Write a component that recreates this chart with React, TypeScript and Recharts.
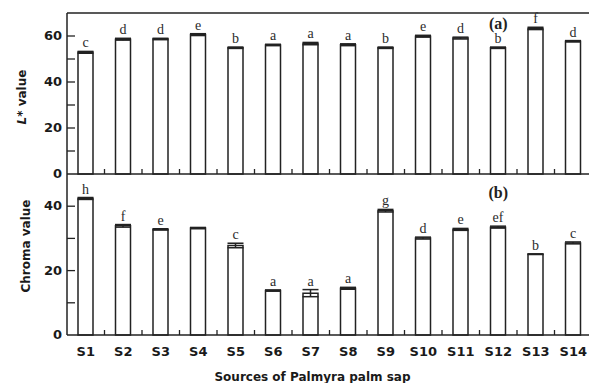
import React from "react";
import { Bar, BarChart, XAxis, YAxis, ErrorBar, LabelList, ReferenceLine, ReferenceDot, Label } from "recharts";

const sources = ["S1", "S2", "S3", "S4", "S5", "S6", "S7", "S8", "S9", "S10", "S11", "S12", "S13", "S14"];

// panel (a) L* value
const lValues = [52.9, 58.6, 58.7, 60.6, 54.9, 56.1, 56.7, 56.2, 54.9, 59.9, 59.1, 54.9, 63.3, 57.7];
const lErr = [0.4, 0.4, 0.3, 0.4, 0.3, 0.3, 0.5, 0.4, 0.3, 0.4, 0.4, 0.3, 0.5, 0.3];
const lLetters = ["c", "d", "d", "e", "b", "a", "a", "a", "b", "e", "d", "b", "f", "d"];
const lTicks = [0, 10, 20, 30, 40, 50, 60, 70];

// panel (b) chroma value
const chromaValues = [42.4, 33.9, 32.8, 33.2, 27.8, 13.8, 13.0, 14.5, 38.6, 30.1, 32.8, 33.5, 25.1, 28.6];
const chromaErr = [0.3, 0.4, 0.2, 0.2, 0.7, 0.2, 1.1, 0.3, 0.4, 0.3, 0.3, 0.3, 0.1, 0.3];
const chromaLetters = ["h", "f", "e", "", "c", "a", "a", "a", "g", "d", "e", "ef", "b", "c"];
const chromaTicks = [0, 10, 20, 30, 40, 50];

const lData = sources.map((s, i) => ({ name: s, value: lValues[i], err: lErr[i] }));
const chromaData = sources.map((s, i) => ({ name: s, value: chromaValues[i], err: chromaErr[i] }));

const INK = "#222";
const SANS = "'DejaVu Sans', Verdana, sans-serif";
const SERIF = "'Liberation Serif', 'Times New Roman', serif";
const W = 592;

const makeXTick = (showLabel: boolean) => (props: any) => {
  const { x, y, payload } = props;
  const off = payload && payload.offset ? payload.offset : 18.75;
  return (
    <g>
      <line x1={x + off} x2={x + off} y1={y} y2={y - 5} stroke={INK} strokeWidth={1.3} />
      {showLabel && (
        <text x={x} y={y + 21} textAnchor="middle" fontFamily={SANS} fontWeight="bold" fontSize={13} fill="#1a1a1a">
          {payload.value}
        </text>
      )}
    </g>
  );
};

const makeYTick = (labelled: number[], top: number) => (props: any) => {
  const { x, y, payload } = props;
  const v = payload.value;
  return (
    <g>
      {v !== 0 && v !== top && <line x1={x} x2={x + 8} y1={y} y2={y} stroke={INK} strokeWidth={1.3} />}
      {labelled.includes(v) && (
        <text x={x - 5} y={y + 4} textAnchor="end" fontFamily={SANS} fontWeight="bold" fontSize={13} fill="#1a1a1a">
          {v}
        </text>
      )}
    </g>
  );
};

const makeLetter = (letters: string[], errs: number[], values: number[]) => (props: any) => {
  const { x, y, width, height, index } = props;
  const pxPerUnit = Number(height) / values[index];
  const top = Number(y) - errs[index] * pxPerUnit;
  return (
    <text x={Number(x) + Number(width) / 2} y={top - 4} textAnchor="middle" fontFamily={SERIF} fontSize={14} fill="#2b2b2b">
      {letters[index]}
    </text>
  );
};

const panelLabel = (text: string) => (props: any) => {
  const { viewBox } = props;
  return (
    <text x={viewBox.x} y={viewBox.y + 5} textAnchor="middle" fontFamily={SERIF} fontWeight="bold" fontSize={16} fill="#222">
      {text}
    </text>
  );
};

const lTitle = () => {
  const cx = 22;
  const cy = 97;
  return (
    <text x={cx} y={cy} transform={`rotate(-90 ${cx} ${cy})`} textAnchor="middle" dominantBaseline="central" fontFamily={SANS} fontWeight="bold" fontSize={12} fill="#1a1a1a">
      <tspan fontStyle="italic">L</tspan>* value
    </text>
  );
};

const chromaTitle = () => {
  const cx = 26;
  const cy = 72;
  return (
    <text x={cx} y={cy} transform={`rotate(-90 ${cx} ${cy})`} textAnchor="middle" dominantBaseline="central" fontFamily={SANS} fontWeight="bold" fontSize={12} fill="#1a1a1a">
      Chroma value
    </text>
  );
};

export default function App() {
  const barStyle = { fill: "#fff", stroke: INK, strokeWidth: 1.5 };
  return (
    <div style={{ position: "fixed", left: 0, top: 0, width: 589, height: 383, overflow: "hidden", background: "#fff" }}>
      <div style={{ position: "absolute", left: 0, top: 0 }}>
        <BarChart width={W} height={188} data={lData} margin={{ top: 13, right: 0, left: 0, bottom: 0 }}>
          <XAxis dataKey="name" height={14} tickSize={0} tickMargin={0} tick={makeXTick(false)} axisLine={{ stroke: INK, strokeWidth: 1.5 }} tickLine={false} interval={0} />
          <YAxis width={67} domain={[0, 70]} ticks={lTicks} interval={0} tickSize={0} tickMargin={0} tick={makeYTick([0, 20, 40, 60], 70)} axisLine={{ stroke: INK, strokeWidth: 1.5 }} tickLine={false}>
            <Label content={lTitle} />
          </YAxis>
          <ReferenceLine y={70} stroke={INK} strokeWidth={1.5} />
          <Bar dataKey="value" {...barStyle} barSize={15} isAnimationActive={false}>
            <ErrorBar dataKey="err" width={8} stroke={INK} strokeWidth={1.5} />
            <LabelList dataKey="value" content={makeLetter(lLetters, lErr, lValues)} />
          </Bar>
          <ReferenceDot x="S12" y={65.2} r={0} fill="none" stroke="none" label={panelLabel("(a)")} />
        </BarChart>
      </div>
      <div style={{ position: "absolute", left: 0, top: 174 }}>
        <BarChart width={W} height={209} data={chromaData} margin={{ top: 0, right: 0, left: 0, bottom: 0 }}>
          <XAxis dataKey="name" height={48} tickSize={0} tickMargin={0} tick={makeXTick(true)} axisLine={{ stroke: INK, strokeWidth: 1.5 }} tickLine={false} interval={0}>
            <Label value="Sources of Palmyra palm sap" position="insideBottom" offset={2} fontFamily={SANS} fontWeight="bold" fontSize={12} fill="#1a1a1a" dx={-17} />
          </XAxis>
          <YAxis width={67} domain={[0, 50]} ticks={chromaTicks} interval={0} tickSize={0} tickMargin={0} tick={makeYTick([0, 20, 40], 50)} axisLine={{ stroke: INK, strokeWidth: 1.5 }} tickLine={false}>
            <Label content={chromaTitle} />
          </YAxis>
          <Bar dataKey="value" {...barStyle} barSize={15} isAnimationActive={false}>
            <ErrorBar dataKey="err" width={8} stroke={INK} strokeWidth={1.5} />
            <LabelList dataKey="value" content={makeLetter(chromaLetters, chromaErr, chromaValues)} />
          </Bar>
          <ReferenceDot x="S12" y={44} r={0} fill="none" stroke="none" label={panelLabel("(b)")} />
        </BarChart>
      </div>
    </div>
  );
}
